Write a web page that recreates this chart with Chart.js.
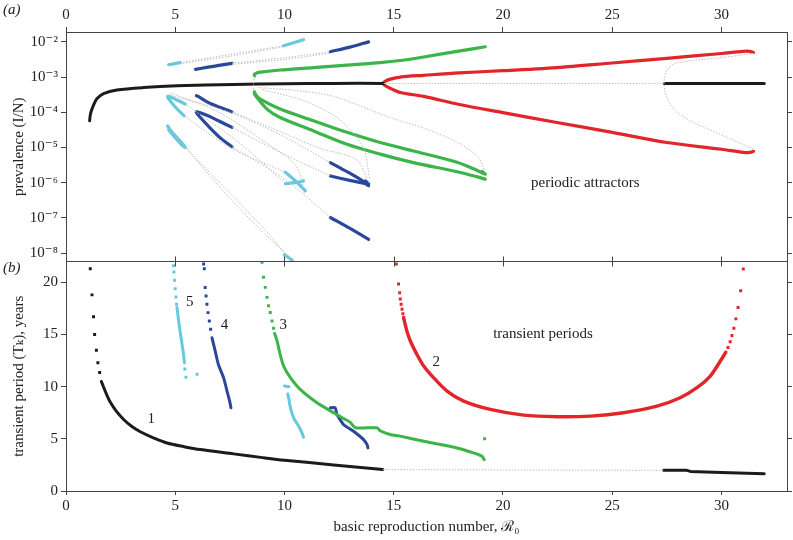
<!DOCTYPE html>
<html>
<head>
<meta charset="utf-8">
<script src="https://cdn.jsdelivr.net/npm/chart.js@4.4.1/dist/chart.umd.min.js"></script>
<style>
  html, body { margin: 0; padding: 0; background: #fff; }
  #wrap { width: 793px; height: 540px; }
</style>
</head>
<body>
<div id="wrap"><canvas id="chart" width="793" height="540"></canvas></div>
<script>
// R0 axis, shared by both panels
const X_MIN = 0;
const X_MAX = 33;
const X_TICKS = [0, 5, 10, 15, 20, 25, 30];

// panel (a): prevalence, stored as log10(I/N)
const PREV_LOG_MIN = -8.24;
const PREV_LOG_MAX = -1.72;
const PREV_TICK_EXPONENTS = [-8, -7, -6, -5, -4, -3, -2];

// panel (b): transient period, years
const PERIOD_MAX = 22;
const PERIOD_TICKS = [0, 5, 10, 15, 20];

// ---- panel (a) curves: [R0, log10 prevalence] ----
const attr1Low = [[1.08, -4.24], [1.12, -4.05], [1.19, -3.91], [1.3, -3.74], [1.42, -3.61], [1.72, -3.47], [2.33, -3.37], [3.55, -3.30], [5.08, -3.25], [7.67, -3.21], [10, -3.19], [12.25, -3.18], [14.54, -3.18]];
const attr1High = [[27.38, -3.18], [31.96, -3.18]];
const unst1 = [[14.54, -3.18], [27.38, -3.18]];

const attr2Upper = [[14.5, -3.18], [14.6, -3.12], [14.84, -3.06], [15.3, -3.0], [16.37, -2.95], [18, -2.88], [20, -2.82], [22.47, -2.73], [25, -2.6], [27.5, -2.47], [30, -2.33], [31, -2.27], [31.3, -2.27], [31.47, -2.30]];
const attr2Lower = [[14.5, -3.18], [14.6, -3.24], [14.84, -3.32], [15.3, -3.44], [16.37, -3.55], [18, -3.78], [20, -4.01], [22.47, -4.29], [25, -4.57], [27.5, -4.86], [30, -5.05], [31, -5.14], [31.3, -5.14], [31.47, -5.11]];
const unst2 = [[31.47, -2.33], [30.1, -2.44], [28.57, -2.54], [27.81, -2.63], [27.5, -2.82], [27.38, -3.06], [27.38, -3.18], [27.43, -3.44], [27.81, -3.91], [28.57, -4.24], [30.1, -4.67], [31.47, -5.05]];

const attr3Upper = [[8.64, -2.97], [8.62, -2.92], [8.75, -2.88], [8.89, -2.86], [9.8, -2.8], [11.33, -2.73], [12.86, -2.66], [14.38, -2.59], [15.3, -2.53], [16.37, -2.43], [17.9, -2.27], [19.19, -2.14]];
const attr3Mid = [[8.62, -3.42], [8.7, -3.52], [8.89, -3.63], [9.8, -3.91], [11.33, -4.24], [12.86, -4.57], [14.38, -4.86], [15.9, -5.1], [17.9, -5.42], [18.8, -5.65], [19.19, -5.76], [19.05, -5.68]];
const attr3Low = [[8.62, -3.42], [8.64, -3.5], [9.2, -3.91], [9.8, -4.15], [11.33, -4.53], [12.86, -4.91], [14.38, -5.19], [15.9, -5.43], [17.9, -5.69], [18.8, -5.83], [19.19, -5.9]];

const attr4Top1 = [[5.93, -2.78], [6.5, -2.72], [7.0, -2.67], [7.6, -2.61]];
const attr4Top2 = [[12.1, -2.28], [13.0, -2.15], [13.85, -2.0]];
const attr4Stroke = [[5.97, -3.53], [6.05, -3.55], [6.5, -3.72], [7.0, -3.85], [7.6, -3.99]];
const attr4V = [[7.6, -4.43], [7.0, -4.25], [6.5, -4.1], [5.97, -3.99], [6.05, -4.08], [6.6, -4.45], [7.1, -4.75], [7.6, -4.98]];
const attr4X1 = [[12.1, -5.43], [12.9, -5.7], [13.5, -5.92], [13.85, -6.09]];
const attr4X2 = [[12.1, -5.81], [13.09, -5.95], [13.5, -6.0], [13.85, -6.04], [13.7, -5.95]];
const attr4Bottom = [[12.1, -6.99], [13.0, -7.3], [13.85, -7.61]];

const attr5Top1 = [[4.70, -2.65], [5.23, -2.59]];
const attr5Top2 = [[9.96, -2.11], [10.87, -1.94]];
const attr5V = [[5.46, -3.77], [5.1, -3.66], [4.75, -3.56], [4.65, -3.55], [4.7, -3.62], [5.0, -3.85], [5.41, -4.1]];
const attr5Low = [[4.65, -4.39], [4.9, -4.6], [5.2, -4.8], [5.46, -5.0], [5.3, -4.93], [4.7, -4.5]];
const attr5Y1 = [[10.03, -5.70], [10.5, -5.95], [10.95, -6.23]];
const attr5Y2 = [[10.04, -6.03], [10.5, -6.0], [10.87, -5.95]];
const attr5Bottom = [[10.0, -8.05], [10.35, -8.2]];

// unstable branches (grey dotted)
const unstableTop = [
  [[5.23, -2.59], [7.6, -2.35], [9.96, -2.11]],
  [[5.23, -2.62], [7.6, -2.4], [9.96, -2.14]],
  [[7.6, -2.61], [10, -2.45], [12.1, -2.28]],
  [[7.6, -2.64], [10, -2.5], [12.1, -2.32]],
  [[8.64, -2.97], [8.58, -3.2], [8.62, -3.42]],
  [[8.8, -3.3], [10.5, -3.38], [12.25, -3.55], [14.84, -4.15], [16.37, -4.45], [17.9, -4.85], [18.9, -5.3], [19.19, -5.75]],
  [[4.7, -3.5], [7.5, -4.0], [10, -4.7], [12.1, -5.43]],
  [[7.6, -3.99], [10, -4.6], [11.5, -5.0], [13.3, -5.35], [13.85, -6.0]],
  [[7.6, -4.43], [10, -5.2], [12.1, -5.81]],
  [[7.6, -4.98], [10, -5.9], [12.1, -6.99]],
  [[5.41, -4.1], [7.5, -5.0], [10.03, -5.7]],
  [[5.46, -3.77], [8, -4.9], [10.04, -6.03]],
  [[4.65, -4.39], [7, -6.1], [9, -7.4], [10.4, -8.2]],
  [[5.46, -5.0], [7.5, -6.3], [9.2, -7.4], [10.1, -8.1]],
  [[9, -3.35], [11, -3.7], [12.5, -4.2], [13.6, -5.0], [13.9, -5.9]],
  [[4.8, -3.45], [7, -4.0], [9, -4.8], [10.5, -5.5], [10.9, -6.2]]
];

// ---- panel (b) curves: [R0, period in years] ----
const per1Dots = [[1.11, 21.3], [1.19, 18.8], [1.26, 16.7], [1.31, 15.0], [1.39, 13.5], [1.46, 12.3], [1.54, 11.35]];
const per1Line = [[1.62, 10.5], [1.75, 9.8], [1.9, 9.05], [2.03, 8.5], [2.3, 7.65], [2.64, 6.85], [3.0, 6.2], [3.4, 5.68], [4.0, 5.1], [4.62, 4.6], [5.4, 4.25], [6.15, 3.97], [7.67, 3.56], [9.0, 3.2], [10, 2.95], [12.25, 2.5], [14.5, 2.05]];
const per1High = [[27.35, 1.98], [28.42, 1.98], [28.57, 1.88], [30, 1.78], [31.96, 1.66]];
const per1Gap = [[14.5, 2.05], [27.35, 1.98]];

const per2DotsL = [[15.12, 21.75], [15.22, 19.84], [15.27, 19.0], [15.3, 18.4], [15.34, 17.9], [15.38, 17.43], [15.42, 17.0]];
const per2Line = [[15.45, 16.63], [15.6, 15.35], [15.76, 14.38], [16.06, 13.1], [16.37, 11.98], [16.82, 10.87], [17.44, 9.58], [18.2, 8.62], [19.42, 7.82], [20.94, 7.27], [22.47, 7.12], [24.0, 7.18], [25.52, 7.5], [27.05, 8.13], [28.11, 8.94], [28.88, 9.9], [29.49, 11.02], [29.95, 12.46], [30.2, 13.3]];
const per2DotsR = [[30.3, 13.75], [30.4, 14.3], [30.48, 14.9], [30.57, 15.6], [30.66, 16.5], [30.76, 17.6], [30.88, 19.2], [31.0, 21.28]];

const per3Dots = [[8.97, 21.92], [9.04, 20.48], [9.12, 19.52], [9.2, 18.56], [9.27, 17.75], [9.35, 17.12], [9.43, 16.3], [9.5, 15.6], [19.16, 5.0]];
const per3Line = [[9.55, 15.1], [9.66, 14.38], [9.8, 13.1], [9.96, 11.98], [10.27, 10.87], [10.72, 9.74], [11.49, 8.46], [12.25, 7.5], [12.7, 6.95], [13.0, 6.6], [13.25, 6.06], [14.23, 6.06], [14.4, 5.75], [14.84, 5.42], [15.3, 5.26], [16.37, 4.77], [17.9, 4.13], [18.65, 3.65], [19.04, 3.33], [19.14, 3.0]];

const per4Dots = [[6.3, 21.76], [6.33, 21.3], [6.37, 19.5], [6.41, 18.7], [6.45, 17.9], [6.5, 17.1], [6.56, 16.3], [6.62, 15.5]];
const per4Line = [[6.68, 14.7], [6.83, 13.4], [6.98, 12.1], [7.21, 10.87], [7.37, 9.58], [7.49, 8.62], [7.55, 7.98]];
const per4Second = [[12.1, 7.98], [12.32, 7.98], [12.4, 7.34], [12.7, 6.38], [13.16, 5.73], [13.62, 4.93], [13.78, 4.45], [13.82, 4.13]];

const per5Dots = [[4.92, 21.6], [4.94, 21.0], [4.97, 20.2], [5.0, 19.4], [5.03, 18.6], [5.06, 17.9], [5.44, 11.7], [5.49, 10.9], [6.0, 11.2]];
const per5Line = [[5.08, 17.6], [5.15, 16.4], [5.23, 15.2], [5.31, 14.1], [5.38, 13.1], [5.42, 12.3]];
const per5Second = [[10.0, 10.06], [10.2, 10.0]];
const per5Third = [[10.15, 9.3], [10.19, 8.94], [10.27, 7.98], [10.42, 7.02], [10.65, 6.21], [10.8, 5.58], [10.87, 5.15]];

// text labels, placed in data units
const PERIOD_NAMES = ["1", "2", "3", "4", "5"];
const PERIOD_NAME_POS = [[3.9, 6.86], [16.95, 12.4], [9.94, 15.9], [7.25, 15.9], [5.66, 18.13]];
const TOP_NOTE = { text: "periodic attractors", x: 23.77, logY: -6.01 };
const BOTTOM_NOTE = { text: "transient periods", x: 21.83, y: 15.03 };

const BLACK = "#1b1b1b";
const RED = "#e2252b";
const GREEN = "#3cb44a";
const BLUE = "#2b479b";
const CYAN = "#66c9dc";
const GREY = "#bdbdbd";
const AXIS = "#444";
const SERIF = "'Liberation Serif', 'DejaVu Serif', serif";

const prevPts = (pts) => pts.map(([x, e]) => ({ x, y: Math.pow(10, e) }));
const perPts = (pts) => pts.map(([x, y]) => ({ x, y }));

function curve(points, color, yAxisID, width = 3.2, tension = 0.3) {
  return {
    data: points, yAxisID, xAxisID: "x", showLine: true,
    borderColor: color, borderWidth: width, pointRadius: 0,
    borderCapStyle: "round", borderJoinStyle: "round", tension
  };
}
function dotted(points, yAxisID) {
  return {
    data: points, yAxisID, xAxisID: "x", showLine: true, tension: 0.3,
    borderColor: GREY, borderWidth: 1, borderDash: [1.5, 1.5], pointRadius: 0
  };
}
function dots(points, color, yAxisID) {
  return {
    data: points, yAxisID, xAxisID: "x", showLine: false,
    pointStyle: "rect", pointRadius: 2.1, backgroundColor: color, borderWidth: 0
  };
}

const datasets = [
  ...unstableTop.map((u) => dotted(prevPts(u), "yTop")),
  dotted(prevPts(unst1), "yTop"),
  dotted(prevPts(unst2), "yTop"),
  curve(prevPts(attr1Low), BLACK, "yTop", 3),
  curve(prevPts(attr1High), BLACK, "yTop", 3),
  curve(prevPts(attr2Upper), RED, "yTop"),
  curve(prevPts(attr2Lower), RED, "yTop"),
  curve(prevPts(attr3Upper), GREEN, "yTop"),
  curve(prevPts(attr3Mid), GREEN, "yTop"),
  curve(prevPts(attr3Low), GREEN, "yTop"),
  ...[attr4Top1, attr4Top2, attr4Stroke, attr4V, attr4X1, attr4X2, attr4Bottom].map((c) => curve(prevPts(c), BLUE, "yTop")),
  ...[attr5Top1, attr5Top2, attr5V, attr5Low, attr5Y1, attr5Y2, attr5Bottom].map((c) => curve(prevPts(c), CYAN, "yTop")),

  dotted(perPts(per1Gap), "yBot"),
  dots(perPts(per1Dots), BLACK, "yBot"),
  curve(perPts(per1Line), BLACK, "yBot", 3),
  curve(perPts(per1High), BLACK, "yBot", 3, 0),
  dots(perPts(per2DotsL), RED, "yBot"),
  dots(perPts(per2DotsR), RED, "yBot"),
  curve(perPts(per2Line), RED, "yBot", 3.4),
  dots(perPts(per3Dots), GREEN, "yBot"),
  curve(perPts(per3Line), GREEN, "yBot", 3, 0.2),
  dots(perPts(per4Dots), BLUE, "yBot"),
  curve(perPts(per4Line), BLUE, "yBot", 3),
  curve(perPts(per4Second), BLUE, "yBot", 3, 0.15),
  dots(perPts(per5Dots), CYAN, "yBot"),
  curve(perPts(per5Line), CYAN, "yBot", 3),
  curve(perPts(per5Second), CYAN, "yBot", 3, 0),
  curve(perPts(per5Third), CYAN, "yBot", 3)
];

const supDigits = { "-": "\u207B", "0": "\u2070", "1": "\u00B9", "2": "\u00B2", "3": "\u00B3", "4": "\u2074", "5": "\u2075", "6": "\u2076", "7": "\u2077", "8": "\u2078", "9": "\u2079" };
const powerLabel = (v) => "10" + String(Math.round(Math.log10(v))).split("").map((c) => supDigits[c]).join("");

const tickFont = { family: SERIF, size: 15 };
const titleFont = { family: SERIF, size: 15 };
const axisGrid = { drawOnChartArea: false, drawTicks: true, tickLength: 5, color: AXIS, lineWidth: 1 };
const axisBorder = { display: true, color: AXIS, width: 1 };

function fixedSize(prop, size) {
  return (scale) => { scale[prop] = size; };
}
function setTicks(values) {
  return (scale) => { scale.ticks = values.map((value) => ({ value })); };
}

const logTicks = PREV_TICK_EXPONENTS.map((e) => Math.pow(10, e));

const framePlugin = {
  id: "frames",
  afterDraw(chart) {
    const { ctx, chartArea, scales } = chart;
    const sep = scales.yTop.bottom;
    ctx.save();
    ctx.strokeStyle = AXIS;
    ctx.lineWidth = 1;
    ctx.beginPath();
    ctx.moveTo(chartArea.left, sep);
    ctx.lineTo(chartArea.right, sep);
    // inward ticks on the shared edge
    X_TICKS.forEach((t) => {
      const px = Math.round(scales.x.getPixelForValue(t)) + 0.5;
      ctx.moveTo(px, sep - 5);
      ctx.lineTo(px, sep + 5);
    });
    ctx.stroke();

    ctx.fillStyle = "#222";
    ctx.textAlign = "center";
    ctx.textBaseline = "middle";
    ctx.font = `15px ${SERIF}`;
    PERIOD_NAMES.forEach((name, i) => {
      const [x, y] = PERIOD_NAME_POS[i];
      ctx.fillText(name, scales.x.getPixelForValue(x), scales.yBot.getPixelForValue(y));
    });
    ctx.fillText(TOP_NOTE.text, scales.x.getPixelForValue(TOP_NOTE.x), scales.yTop.getPixelForValue(Math.pow(10, TOP_NOTE.logY)));
    ctx.fillText(BOTTOM_NOTE.text, scales.x.getPixelForValue(BOTTOM_NOTE.x), scales.yBot.getPixelForValue(BOTTOM_NOTE.y));

    ctx.textAlign = "left";
    ctx.font = `italic 15px ${SERIF}`;
    ctx.fillText("(a)", 3, 10);
    ctx.fillText("(b)", 3, 268);
    ctx.restore();
  }
};

new Chart(document.getElementById("chart"), {
  type: "scatter",
  data: { datasets },
  options: {
    responsive: false,
    animation: false,
    devicePixelRatio: 1,
    layout: { padding: 0 },
    plugins: { legend: { display: false }, tooltip: { enabled: false } },
    scales: {
      x: {
        type: "linear", position: "bottom", min: X_MIN, max: X_MAX,
        afterBuildTicks: setTicks(X_TICKS),
        afterFit: fixedSize("height", 49),
        grid: { ...axisGrid, tickLength: 4 }, border: axisBorder,
        ticks: { font: tickFont, color: "#222", padding: 2, maxRotation: 0 },
        title: { display: true, text: "basic reproduction number, \u211B\u2080", font: titleFont, color: "#222", padding: { top: 0, bottom: 4 } }
      },
      xTop: {
        type: "linear", position: "top", min: X_MIN, max: X_MAX,
        afterBuildTicks: setTicks(X_TICKS),
        afterFit: fixedSize("height", 32),
        grid: axisGrid, border: axisBorder,
        ticks: { font: tickFont, color: "#222", padding: 3, maxRotation: 0 }
      },
      yBot: {
        type: "linear", position: "left", stack: "panels", stackWeight: 1,
        min: 0, max: PERIOD_MAX,
        afterBuildTicks: setTicks(PERIOD_TICKS),
        afterFit: fixedSize("width", 66),
        grid: axisGrid, border: axisBorder,
        ticks: { font: tickFont, color: "#222", padding: 3 },
        title: { display: true, text: "transient period (T\u2096), years", font: titleFont, color: "#222", padding: { top: 10, bottom: 0 } }
      },
      yTop: {
        type: "logarithmic", position: "left", stack: "panels", stackWeight: 1,
        min: Math.pow(10, PREV_LOG_MIN), max: Math.pow(10, PREV_LOG_MAX),
        afterBuildTicks: setTicks(logTicks),
        afterFit: fixedSize("width", 66),
        grid: axisGrid, border: axisBorder,
        ticks: { font: tickFont, color: "#222", padding: 3, callback: (v) => powerLabel(v) },
        title: { display: true, text: "prevalence (I/N)", font: titleFont, color: "#222", padding: { top: 10, bottom: 0 } }
      },
      yTopR: {
        type: "logarithmic", position: "right", stack: "panelsR", stackWeight: 1,
        min: Math.pow(10, PREV_LOG_MIN), max: Math.pow(10, PREV_LOG_MAX),
        afterBuildTicks: setTicks(logTicks),
        afterFit: fixedSize("width", 6),
        grid: axisGrid, border: axisBorder,
        ticks: { display: false }
      },
      yBotR: {
        type: "linear", position: "right", stack: "panelsR", stackWeight: 1,
        min: 0, max: PERIOD_MAX,
        afterBuildTicks: setTicks(PERIOD_TICKS),
        afterFit: fixedSize("width", 6),
        grid: axisGrid, border: axisBorder,
        ticks: { display: false }
      }
    }
  },
  plugins: [framePlugin]
});
</script>
</body>
</html>
